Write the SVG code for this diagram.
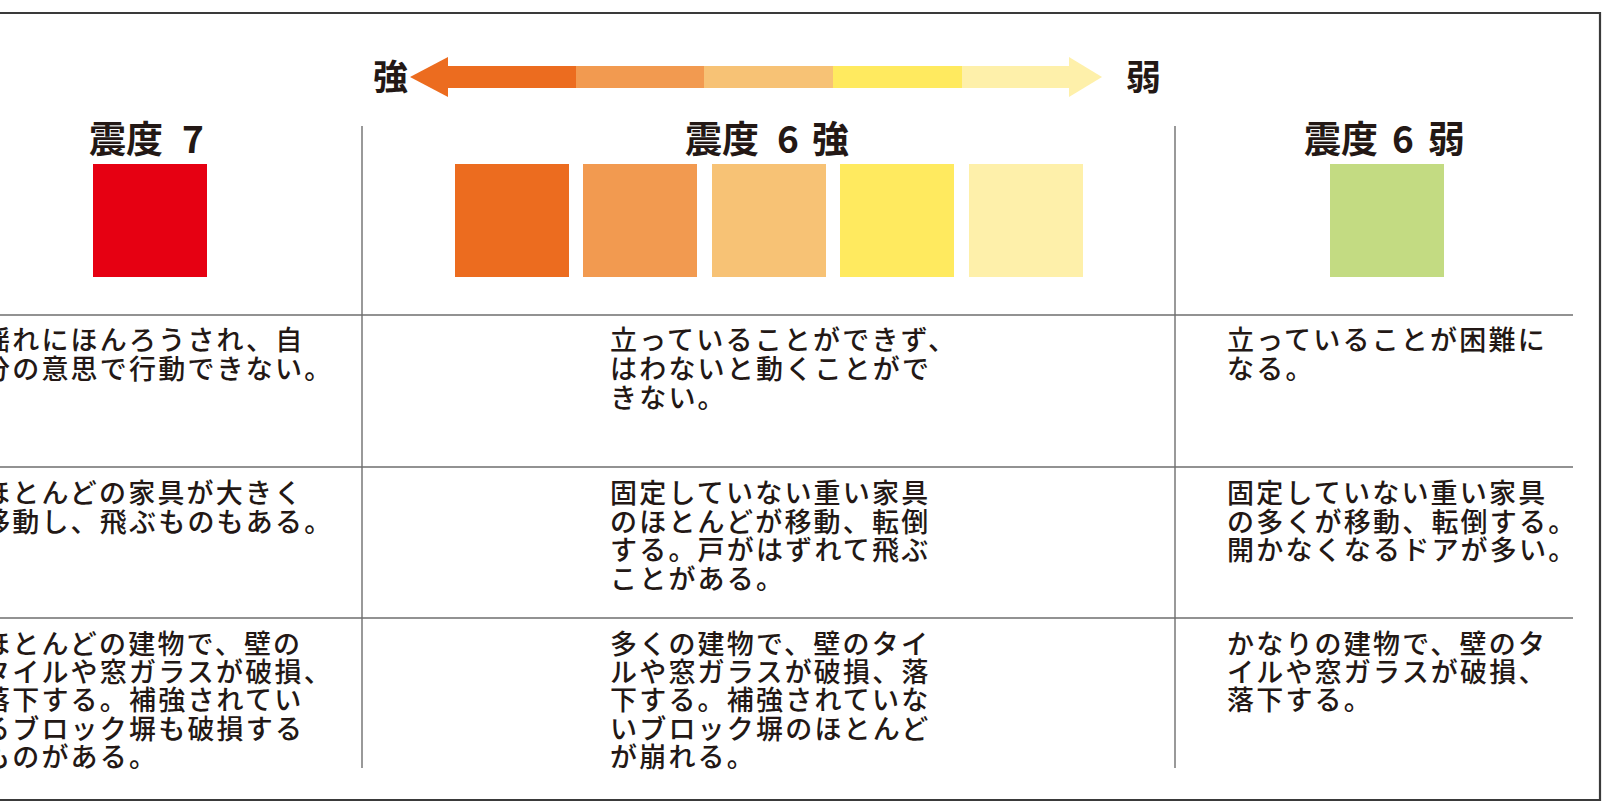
<svg xmlns="http://www.w3.org/2000/svg" width="1602" height="804" viewBox="0 0 1602 804">
<style>
.frame{stroke:#3a3a3a;stroke-width:2.2;fill:none}
.rule{stroke:#6e6e6e;stroke-width:1.4;fill:none}
.hd{font-family:"Noto Sans CJK JP","Noto Sans CJK SC",sans-serif;font-size:37px;font-weight:700;fill:#231815}
.lbl{font-family:"Noto Sans CJK JP","Noto Sans CJK SC",sans-serif;font-size:35px;font-weight:700;fill:#231815}
.tx{font-family:"Noto Sans CJK JP","Noto Sans CJK SC",sans-serif;font-size:27px;font-weight:500;letter-spacing:2.2px;fill:#231815}
.c1{fill:#EC6C1F}.c2{fill:#F29A50}.c3{fill:#F7C275}.c4{fill:#FFEA5F}.c5{fill:#FEF0AA}
.red{fill:#E60012}.grn{fill:#C3DB82}
</style>
<rect width="1602" height="804" fill="#ffffff"/>
<g id="frame">
<path class="frame" d="M0 13 H1600 V800 H0"/>
</g>
<g id="connectors">
<line class="rule" x1="0" y1="315" x2="1573" y2="315"/>
<line class="rule" x1="0" y1="467" x2="1573" y2="467"/>
<line class="rule" x1="0" y1="618" x2="1573" y2="618"/>
<line class="rule" x1="362" y1="126" x2="362" y2="768"/>
<line class="rule" x1="1175" y1="126" x2="1175" y2="768"/>
</g>
<g id="scale-arrow">
<polygon class="c1" points="410,77 448,57 448,97"/>
<rect class="c1" x="447" y="66" width="130" height="22"/>
<rect class="c2" x="576" y="66" width="129" height="22"/>
<rect class="c3" x="704" y="66" width="130" height="22"/>
<rect class="c4" x="833" y="66" width="130" height="22"/>
<rect class="c5" x="962" y="66" width="108" height="22"/>
<polygon class="c5" points="1069,57 1102,77 1069,97"/>
<text class="lbl" x="373" y="90">強</text>
<text class="lbl" x="1126" y="90">弱</text>
</g>
<g id="col-7">
<text class="hd" y="153"><tspan x="89">震度</tspan><tspan x="182">7</tspan></text>
<rect class="red" x="93" y="164" width="114" height="113"/>
<text class="tx" x="-17" y="350"><tspan x="-17">揺れにほんろうされ、自</tspan><tspan x="-17" dy="29">分の意思で行動できない。</tspan></text>
<text class="tx" x="-17" y="503"><tspan x="-17">ほとんどの家具が大きく</tspan><tspan x="-17" dy="28.5">移動し、飛ぶものもある。</tspan></text>
<text class="tx" x="-17" y="654"><tspan x="-17">ほとんどの建物で、壁の</tspan><tspan x="-17" dy="28.2">タイルや窓ガラスが破損、</tspan><tspan x="-17" dy="28.2">落下する。補強されてい</tspan><tspan x="-17" dy="28.2">るブロック塀も破損する</tspan><tspan x="-17" dy="28.2">ものがある。</tspan></text>
</g>
<g id="col-6plus">
<text class="hd" y="153"><tspan x="685">震度</tspan><tspan x="777">6</tspan><tspan x="812">強</tspan></text>
<rect class="c1" x="455" y="164" width="114" height="113"/>
<rect class="c2" x="583" y="164" width="114" height="113"/>
<rect class="c3" x="712" y="164" width="114" height="113"/>
<rect class="c4" x="840" y="164" width="114" height="113"/>
<rect class="c5" x="969" y="164" width="114" height="113"/>
<text class="tx" x="610" y="350"><tspan x="610">立っていることができず、</tspan><tspan x="610" dy="29">はわないと動くことがで</tspan><tspan x="610" dy="29">きない。</tspan></text>
<text class="tx" x="610" y="503"><tspan x="610">固定していない重い家具</tspan><tspan x="610" dy="28.5">のほとんどが移動、転倒</tspan><tspan x="610" dy="28.5">する。戸がはずれて飛ぶ</tspan><tspan x="610" dy="28.5">ことがある。</tspan></text>
<text class="tx" x="610" y="654"><tspan x="610">多くの建物で、壁のタイ</tspan><tspan x="610" dy="28.2">ルや窓ガラスが破損、落</tspan><tspan x="610" dy="28.2">下する。補強されていな</tspan><tspan x="610" dy="28.2">いブロック塀のほとんど</tspan><tspan x="610" dy="28.2">が崩れる。</tspan></text>
</g>
<g id="col-6minus">
<text class="hd" y="153"><tspan x="1304">震度</tspan><tspan x="1392">6</tspan><tspan x="1428">弱</tspan></text>
<rect class="grn" x="1330" y="164" width="114" height="113"/>
<text class="tx" x="1227" y="350"><tspan x="1227">立っていることが困難に</tspan><tspan x="1227" dy="29">なる。</tspan></text>
<text class="tx" x="1227" y="503"><tspan x="1227">固定していない重い家具</tspan><tspan x="1227" dy="28.5">の多くが移動、転倒する。</tspan><tspan x="1227" dy="28.5">開かなくなるドアが多い。</tspan></text>
<text class="tx" x="1227" y="654"><tspan x="1227">かなりの建物で、壁のタ</tspan><tspan x="1227" dy="28.2">イルや窓ガラスが破損、</tspan><tspan x="1227" dy="28.2">落下する。</tspan></text>
</g>
</svg>
